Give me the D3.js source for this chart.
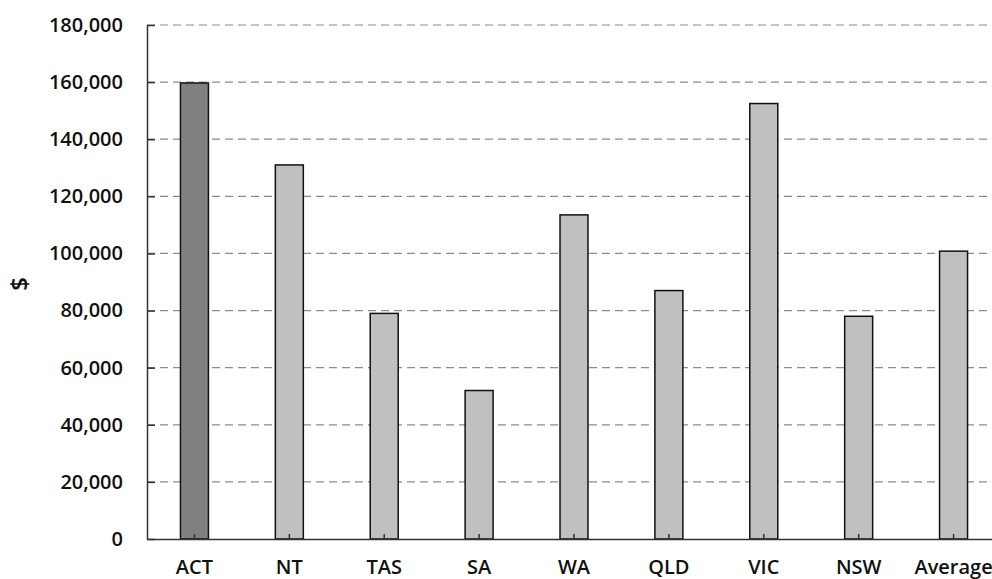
<!DOCTYPE html>
<html>
<head>
<meta charset="utf-8">
<script src="https://cdn.jsdelivr.net/npm/d3@7"></script>
<style>
  body { margin: 0; background: #fff; }
  svg { display: block; }
  text { font-family: "Open Sans", sans-serif; font-weight: 600; fill: #111; }
</style>
</head>
<body>
<div id="chart"></div>
<script>
// data
var states = ["ACT", "NT", "TAS", "SA", "WA", "QLD", "VIC", "NSW", "Average"];
var values = [159700, 131000, 79000, 52000, 113500, 87000, 152500, 78000, 100800];
var yTicks = [0, 20000, 40000, 60000, 80000, 100000, 120000, 140000, 160000, 180000];

var width = 992, height = 579;
var margin = {top: 25, right: -9, bottom: 40, left: 147};

var svg = d3.select("#chart").append("svg")
    .attr("width", width)
    .attr("height", height);

var x = d3.scaleBand()
    .domain(states)
    .range([margin.left, width - margin.right])
    .paddingInner(0.705)
    .paddingOuter(0.3525);

var y = d3.scaleLinear()
    .domain([0, 180000])
    .range([height - margin.bottom, margin.top]);

// dashed grid lines
svg.append("g")
    .selectAll("line")
    .data(yTicks.filter(function(d) { return d > 0; }))
    .enter().append("line")
    .attr("x1", margin.left)
    .attr("x2", width)
    .attr("y1", function(d) { return y(d); })
    .attr("y2", function(d) { return y(d); })
    .attr("stroke", "#8c8c8c")
    .attr("stroke-width", 1.2)
    .attr("stroke-dasharray", "8,5");

// bars
svg.append("g")
    .selectAll("rect")
    .data(values)
    .enter().append("rect")
    .attr("x", function(d, i) { return x(states[i]); })
    .attr("y", function(d) { return y(d); })
    .attr("width", x.bandwidth())
    .attr("height", function(d) { return y(0) - y(d); })
    .attr("fill", function(d, i) { return i == 0 ? "#808080" : "#c0c0c0"; })
    .attr("stroke", "#111")
    .attr("stroke-width", 1.5);

// y axis
var yAxis = d3.axisLeft(y)
    .tickValues(yTicks)
    .tickSizeInner(-8)
    .tickSizeOuter(0)
    .tickPadding(24)
    .tickFormat(d3.format(","));
var gy = svg.append("g")
    .attr("transform", "translate(" + margin.left + ",0)")
    .call(yAxis);
gy.select(".domain").attr("stroke", "#333").attr("stroke-width", 1.5);
gy.selectAll(".tick line").attr("stroke", "#333").attr("stroke-width", 1.5);
gy.selectAll(".tick text")
    .attr("font-size", 20)
    .attr("font-family", "Open Sans")
    .attr("font-weight", 600)
    .attr("fill", "#111");

// x axis
var xAxis = d3.axisBottom(x)
    .tickSizeInner(-5)
    .tickSizeOuter(0)
    .tickPadding(21);
var gx = svg.append("g")
    .attr("transform", "translate(0," + y(0) + ")")
    .call(xAxis);
gx.select(".domain").attr("stroke", "#333").attr("stroke-width", 1.5);
gx.selectAll(".tick line").attr("stroke", "#333").attr("stroke-width", 1.5);
gx.selectAll(".tick text")
    .attr("font-size", 20)
    .attr("font-family", "Open Sans")
    .attr("font-weight", 600)
    .attr("fill", "#111");

// axis title
svg.append("text")
    .attr("transform", "translate(22," + ((margin.top + height - margin.bottom) / 2 + 2) + ") rotate(-90)")
    .attr("text-anchor", "middle")
    .attr("dominant-baseline", "middle")
    .attr("font-size", 24)
    .text("$");
</script>
</body>
</html>
